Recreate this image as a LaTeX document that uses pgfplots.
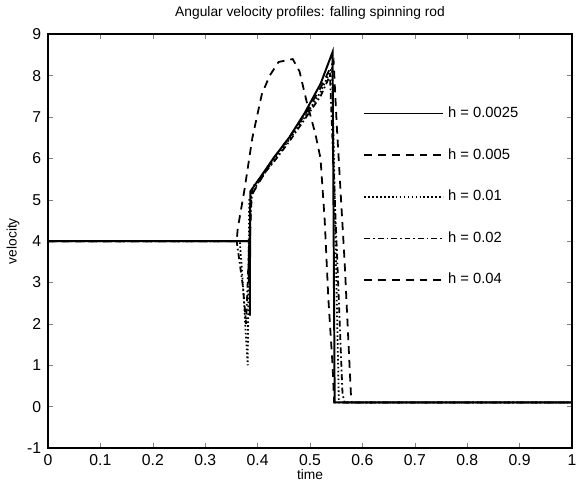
\documentclass[border=0pt]{standalone}
\usepackage{pgfplots}
\pgfplotsset{compat=1.18}
\usepackage{fontspec}
\setmainfont{Liberation Sans}
\begin{document}
\begin{tikzpicture}
\begin{axis}[
    scale only axis,
    width=266pt, height=210pt,
    xmin=0, xmax=1, ymin=-1, ymax=9,
    xtick={0,0.1,...,1.0},
    ytick={-1,0,...,9},
    xticklabels={0,0.1,0.2,0.3,0.4,0.5,0.6,0.7,0.8,0.9,1},
    /pgf/number format/assume math mode=true,
    tick label style={font=\fontsize{8}{9}\selectfont},
    title={Angular velocity profiles: falling spinning rod},
    title style={font=\fontsize{7}{8}\selectfont, yshift=-2pt},
    xlabel={time}, ylabel={velocity},
    label style={font=\fontsize{7}{8}\selectfont},
    xlabel style={yshift=5pt},
    ylabel style={yshift=-3pt},
    axis line style={line width=0.9pt},
    major tick length=2.5pt,
    legend cell align=left,
    legend style={draw=none, fill=none, at={(0.59,0.845)}, anchor=north west,
        font=\fontsize{7.5}{9}\selectfont, row sep=10.2pt},
    legend image code/.code={\draw[#1, line width=0.9pt] (0pt,0pt) -- (40pt,0pt);},
]
% h = 0.0025
\addplot[black, line width=1pt] coordinates {
  (0,4) (0.385,4) (0.385,2.2) (0.386,5.2) (0.40,5.45) (0.43,6.0) (0.46,6.5)
  (0.49,7.1) (0.52,7.8) (0.543,8.57) (0.547,0.1) (1,0.1)
};
% h = 0.005
\addplot[black, line width=0.9pt, dash pattern=on 4pt off 3pt] coordinates {
  (0,4) (0.383,4) (0.383,3.0) (0.388,5.1) (0.43,6.0) (0.46,6.5) (0.49,7.05)
  (0.52,7.7) (0.545,8.35) (0.551,6.8) (0.566,3.5) (0.578,0.3) (0.58,0.1) (1,0.1)
};
% h = 0.01
\addplot[black, line width=0.9pt, dash pattern=on 0.8pt off 1.2pt] coordinates {
  (0,4) (0.366,4) (0.37,3.3) (0.375,2.3) (0.381,1.0) (0.384,5.0) (0.40,5.4)
  (0.43,5.95) (0.46,6.45) (0.49,7.0) (0.52,7.6) (0.542,8.2) (0.555,0.1) (1,0.1)
};
% h = 0.02
\addplot[black, line width=0.9pt, dash pattern=on 3pt off 1.5pt on 0.8pt off 1.5pt] coordinates {
  (0,4) (0.36,4) (0.372,2.9) (0.378,2.0) (0.385,4.3) (0.39,5.3) (0.43,5.9)
  (0.46,6.4) (0.49,6.95) (0.52,7.5) (0.538,8.0) (0.562,0.3) (0.566,0.1) (1,0.1)
};
% h = 0.04
\addplot[black, line width=0.9pt, dash pattern=on 4pt off 3pt] coordinates {
  (0,4) (0.36,4) (0.362,4.3) (0.375,5.25) (0.39,6.5) (0.408,7.55) (0.423,8.0)
  (0.44,8.33) (0.467,8.4) (0.48,8.1) (0.493,7.4) (0.51,6.6) (0.52,6.0)
  (0.528,4.5) (0.535,2.6) (0.543,1.0) (0.546,0.1) (1,0.1)
};
\legend{h = 0.0025, h = 0.005, h = 0.01, h = 0.02, h = 0.04}
\end{axis}
\end{tikzpicture}
\end{document}
